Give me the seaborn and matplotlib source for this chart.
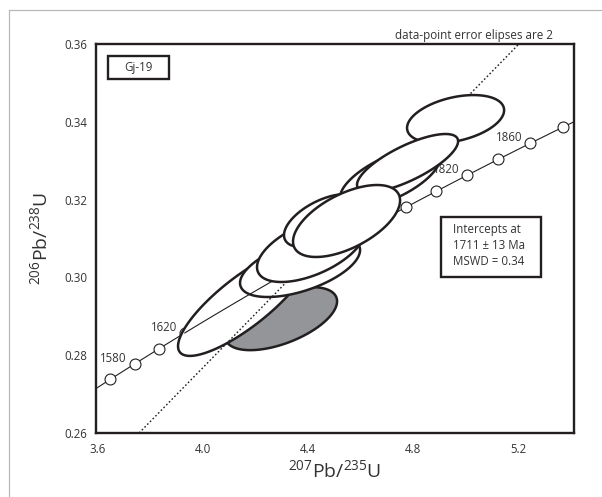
import numpy as np
import pandas as pd
import matplotlib
matplotlib.use("Agg")
import matplotlib.pyplot as plt
import seaborn as sns
from matplotlib.lines import Line2D
from matplotlib.patches import Rectangle
from matplotlib.ticker import MultipleLocator, FixedLocator

# ---------------- data ----------------
# decay constants (per Ma)
LAMBDA_238 = 1.55125e-4
LAMBDA_235 = 9.8485e-4

# concordia age markers (Ma) and labelled ages
marker_ages = [1560, 1580, 1600, 1620, 1640, 1660, 1680, 1700, 1720,
               1740, 1760, 1780, 1800, 1820, 1840, 1860, 1880]
label_ages = [1580, 1620, 1820, 1860]

# analyses (2-sigma error ellipses), listed in drawing order
ell_x = [4.2975, 4.1567, 4.3698, 4.4116, 4.4588, 4.9615, 4.7123, 4.7788, 4.5467]
ell_sx = [0.2131, 0.2511, 0.2283, 0.2055, 0.1500, 0.1846, 0.1903, 0.1922, 0.2036]
ell_y = [0.2894, 0.2937, 0.3028, 0.3073, 0.3146, 0.3407, 0.3256, 0.3294, 0.3145]
ell_sy = [0.00810, 0.01388, 0.00784, 0.00848, 0.00681, 0.00617, 0.00771, 0.00746, 0.00925]
ell_rho = [0.55, 0.82, 0.54, 0.55, 0.55, 0.37, 0.65, 0.75, 0.57]
ell_excluded = [True, False, False, False, False, False, False, False, False]

upper_intercept = 1711   # Ma
lower_intercept = 0      # Ma
sample_name = "Gj-19"
result_text = "Intercepts at\n1711 \u00b1 13 Ma\nMSWD = 0.34"
note_text = "data-point error elipses are 2"

x_ticks = [3.6, 4.0, 4.4, 4.8, 5.2]
y_ticks = [0.26, 0.28, 0.30, 0.32, 0.34, 0.36]


def concordia(t):
    t = np.asarray(t, dtype=float)
    return np.exp(LAMBDA_235 * t) - 1.0, np.exp(LAMBDA_238 * t) - 1.0


# ---------------- style ----------------
sns.set_style("white")
plt.rcParams["font.family"] = ["Open Sans", "DejaVu Sans"]
plt.rcParams["mathtext.default"] = "regular"

INK = "#231f20"
TXT = "#333333"

fig = plt.figure(figsize=(6.02, 4.97), dpi=100)
ax = fig.add_axes([96 / 602, 1 - 433 / 497, 478 / 602, 389 / 497])

# concordia curve (base, under markers)
t_full = np.linspace(1500, 1950, 400)
cx, cy = concordia(t_full)
sns.lineplot(x=cx, y=cy, sort=False, ax=ax, color=INK, lw=0.8, zorder=1)

# concordia markers
mx, my = concordia(marker_ages)
sns.scatterplot(x=mx, y=my, ax=ax, s=62, marker="o", facecolor="white",
                edgecolor=INK, linewidth=0.8, zorder=1.5)

# labels of concordia ages
lx, ly = concordia(label_ages)
for a, x, y in zip(label_ages, lx, ly):
    ax.annotate(str(a), (x, y), xytext=(-5.5, 4), textcoords="offset points",
                ha="right", va="center", fontsize=8.3, color=TXT, zorder=1.6)

# ellipses
tt = np.linspace(0, 2 * np.pi, 240)
for i, (x, sx, y, sy, r, exc) in enumerate(zip(ell_x, ell_sx, ell_y, ell_sy,
                                             ell_rho, ell_excluded)):
    ex = x + sx * np.cos(tt)
    ey = y + sy * (r * np.cos(tt) + np.sqrt(1 - r ** 2) * np.sin(tt))
    ax.fill(ex, ey, facecolor="#939598" if exc else "white",
            edgecolor=INK, lw=1.8, zorder=2 + i)

# concordia segment + discordia visible over the lowest ellipses
t_mid = np.linspace(1620, 1770, 100)
sx_, sy_ = concordia(t_mid)
ax.plot(sx_, sy_, color=INK, lw=0.8, zorder=4.5)
(dx0, dx1), (dy0, dy1) = concordia([lower_intercept, upper_intercept])
ax.axline((dx0, dy0), (dx1, dy1), color=INK, lw=1.0,
          linestyle=(0, (1.2, 1.6)), zorder=4.5)

# axes
ax.set_xlim(3.5935, 5.412)
ax.set_ylim(0.26, 0.36)
ax.xaxis.set_major_locator(FixedLocator(x_ticks))
ax.xaxis.set_minor_locator(MultipleLocator(0.2))
ax.yaxis.set_major_locator(FixedLocator(y_ticks))
ax.yaxis.set_minor_locator(MultipleLocator(0.01))
ax.set_xticklabels([f"{v:.1f}" for v in x_ticks])
ax.set_yticklabels([f"{v:.2f}" for v in y_ticks])
ax.tick_params(which="both", direction="in", top=False, right=False,
               width=1.6, color=INK, labelsize=8.3, labelcolor=TXT)
ax.tick_params(which="major", length=6.5)
ax.tick_params(which="minor", length=5)
ax.tick_params(axis="x", pad=7)
ax.tick_params(axis="y", pad=6.5)
for sp in ax.spines.values():
    sp.set_color(INK)
    sp.set_linewidth(1.7)
    sp.set_zorder(20)
ax.set_xlabel("")
ax.set_ylabel("")

fig.text(335 / 602, 1 - 470 / 497, r"$^{207}$Pb/$^{235}$U", ha="center",
         va="center", fontsize=14, color=TXT)
fig.text(40 / 602, 1 - 238 / 497, r"$^{206}$Pb/$^{238}$U", ha="center",
         va="center", fontsize=14, color=TXT, rotation=90)

# sample box
ax.add_patch(Rectangle((0.0245, 0.9093), 0.1289, 0.0599, transform=ax.transAxes,
                       facecolor="white", edgecolor=INK, lw=1.7, zorder=21))
ax.text(0.0889, 0.9393, sample_name, transform=ax.transAxes, ha="center",
        va="center", fontsize=8.3, color=TXT, zorder=22)

# result box
ax.add_patch(Rectangle((0.7218, 0.401), 0.2092, 0.1542, transform=ax.transAxes,
                       facecolor="white", edgecolor=INK, lw=1.7, zorder=21))
ax.text(0.7463, 0.4815, result_text, transform=ax.transAxes, ha="left",
        va="center", fontsize=8.3, color=TXT, linespacing=1.3, zorder=22)

# note above plot
ax.text(0.956, 1.023, note_text, transform=ax.transAxes, ha="right",
        va="center", fontsize=8.4, color=TXT, clip_on=False)

# light outer frame (left and top)
fig.add_artist(Line2D([9 / 602, 9 / 602], [0, 1 - 10 / 497],
                      transform=fig.transFigure, color="#b8b8b8", lw=0.9))
fig.add_artist(Line2D([9 / 602, 1], [1 - 10 / 497, 1 - 10 / 497],
                      transform=fig.transFigure, color="#b8b8b8", lw=0.9))

fig.savefig("out.png", dpi=100)
